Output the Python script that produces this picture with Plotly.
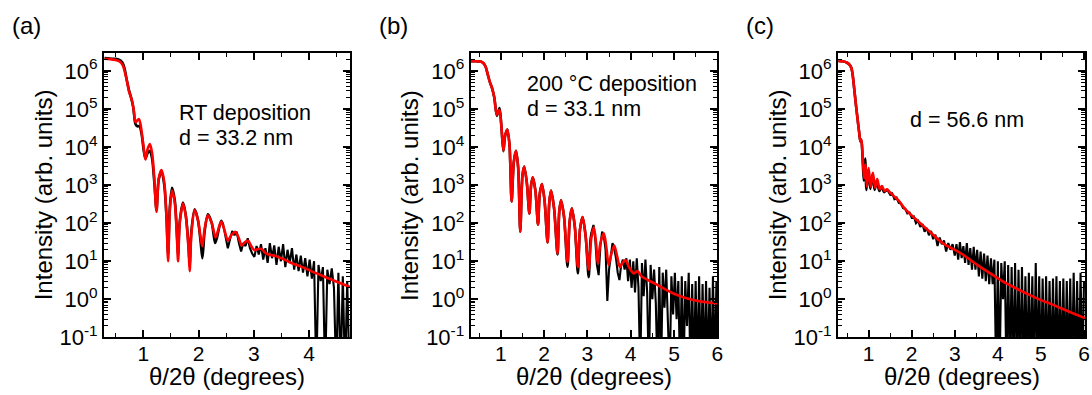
import plotly.graph_objects as go

# ---------------- data ----------------
# (a) RT deposition
a_fit_x = [0.30, 0.40, 0.50, 0.58, 0.63, 0.67, 0.71, 0.74, 0.77, 0.80, 0.83, 0.86, 0.89, 0.92, 0.95, 1.00, 1.04, 1.08, 1.12, 1.16, 1.20, 1.24, 1.28, 1.33, 1.38, 1.42, 1.45, 1.48, 1.52, 1.57, 1.61, 1.63, 1.66, 1.72, 1.77, 1.82, 1.84, 1.87, 1.93, 1.99, 2.04, 2.07, 2.11, 2.17, 2.24, 2.31, 2.36, 2.41, 2.47, 2.53, 2.60, 2.67, 2.73, 2.78, 2.84, 2.90, 2.96, 3.01, 3.08, 3.14, 3.22, 3.30, 3.38, 3.50, 3.68, 3.90, 4.10, 4.30, 4.50, 4.74]
a_fit_y = [2.1e6, 2.05e6, 1.95e6, 1.75e6, 1.4e6, 9e5, 5e5, 3.0e5, 2.2e5, 1.6e5, 9e4, 4.5e4, 5.0e4, 5.5e4, 4e4, 1.2e4, 4.7e3, 9e3, 1.2e4, 7e3, 1.5e3, 200, 1.5e3, 2.5e3, 1.2e3, 150, 10, 200, 720, 350, 40, 10, 100, 330, 150, 20, 5.5, 50, 220, 120, 40, 25, 70, 160, 100, 42, 70, 110, 65, 35, 50, 59, 40, 26, 32, 34, 24, 19.6, 21, 21, 16, 14.5, 14, 12, 9, 6.8, 5.0, 3.8, 2.9, 2.1]
a_meas_x = [0.30, 0.45, 0.55, 0.62, 0.66, 0.70, 0.74, 0.78, 0.82, 0.86, 0.90, 0.93, 0.97, 1.01, 1.04, 1.08, 1.12, 1.16, 1.20, 1.24, 1.28, 1.33, 1.38, 1.42, 1.45, 1.48, 1.52, 1.57, 1.61, 1.63, 1.66, 1.72, 1.77, 1.82, 1.84, 1.87, 1.93, 1.99, 2.04, 2.07, 2.11, 2.17, 2.24, 2.30, 2.33, 2.41, 2.45]
a_meas_y = [2.2e6, 2.1e6, 2.0e6, 1.7e6, 1.2e6, 6e5, 3.2e5, 2.0e5, 1.1e5, 4.0e4, 3.5e4, 3.6e4, 2.2e4, 8e3, 5e3, 7e3, 8e3, 5e3, 1.2e3, 220, 1.4e3, 2.3e3, 1.0e3, 150, 15, 250, 850, 400, 50, 14, 110, 350, 160, 25, 8, 60, 230, 120, 30, 12, 60, 170, 100, 30, 40, 115, 85]
a_noise_x = [2.45, 2.49, 2.53, 2.57, 2.61, 2.65, 2.69, 2.73, 2.77, 2.81, 2.85, 2.89, 2.93, 2.97, 3.01, 3.05, 3.09, 3.13, 3.17, 3.21, 3.25, 3.29, 3.33, 3.37, 3.41, 3.45, 3.49, 3.53, 3.57, 3.61, 3.65, 3.69, 3.73, 3.77, 3.81, 3.85, 3.89, 3.93, 3.97, 4.01, 4.05, 4.09, 4.13, 4.17, 4.21, 4.25, 4.29, 4.33, 4.37, 4.41, 4.45, 4.49, 4.53, 4.57, 4.61, 4.65, 4.69, 4.73]
a_noise_y = [85, 45, 22, 38, 62, 48, 60, 30, 18, 30, 25, 40, 22, 16, 13, 25, 15, 28, 11, 22, 9, 30, 12, 26, 8, 24, 10, 28, 7, 20, 9, 22, 6, 15, 5.5, 14, 5, 12, 4, 11, 3.5, 10, 0.01, 8, 3, 7, 0.01, 6, 2.5, 6.5, 2, 0.01, 5, 0.01, 4, 0.01, 3, 0.01]

# (b) 200 C deposition
b_fit_x = [0.30, 0.45, 0.55, 0.60, 0.65, 0.70, 0.75, 0.80, 0.85, 0.91, 0.97, 1.01, 1.06, 1.10, 1.15, 1.20, 1.25, 1.30, 1.35, 1.40, 1.45, 1.50, 1.54, 1.60, 1.66, 1.70, 1.74, 1.80, 1.86, 1.90, 1.95, 2.01, 2.08, 2.12, 2.16, 2.23, 2.31, 2.35, 2.39, 2.46, 2.54, 2.59, 2.64, 2.71, 2.78, 2.83, 2.89, 2.96, 3.03, 3.09, 3.15, 3.20, 3.24, 3.30, 3.38, 3.44, 3.49, 3.55, 3.62, 3.69, 3.75, 3.81, 3.88, 3.96, 4.07, 4.16, 4.25, 4.40, 4.55, 4.70, 4.85, 5.00, 5.20, 5.40, 5.60, 5.80, 6.00]
b_fit_y = [1.8e6, 1.8e6, 1.75e6, 1.6e6, 1.3e6, 8e5, 5e5, 3.5e5, 2e5, 7e4, 9.5e4, 4e4, 8e3, 2e4, 2.9e4, 1.2e4, 370, 4e3, 8e3, 3e3, 60, 1.8e3, 3.1e3, 1.2e3, 180, 1e3, 1.6e3, 700, 92, 600, 1.07e3, 400, 31, 350, 720, 250, 16, 200, 400, 150, 9.5, 110, 245, 80, 7, 70, 145, 45, 6, 40, 78, 30, 8.7, 30, 54, 22, 8, 15, 26, 13, 7, 9, 10.7, 7, 4.8, 5.5, 4.0, 3.2, 2.6, 2.1, 1.7, 1.4, 1.15, 0.98, 0.88, 0.82, 0.78]
b_meas_x = [0.30, 0.45, 0.55, 0.60, 0.65, 0.70, 0.75, 0.80, 0.85, 0.91, 0.97, 1.01, 1.06, 1.10, 1.15, 1.20, 1.25, 1.30, 1.35, 1.40, 1.45, 1.50, 1.54, 1.60, 1.66, 1.70, 1.74, 1.80, 1.86, 1.90, 1.95, 2.01, 2.08, 2.12, 2.16, 2.23, 2.31, 2.35, 2.39, 2.46, 2.54, 2.59, 2.64, 2.71, 2.78, 2.83, 2.89, 2.96, 3.03, 3.07, 3.10]
b_meas_y = [1.8e6, 1.8e6, 1.75e6, 1.6e6, 1.3e6, 8e5, 5e5, 3.5e5, 2e5, 6.6e4, 1.07e5, 4e4, 7.8e3, 2e4, 2.9e4, 1.2e4, 370, 4e3, 8e3, 3e3, 60, 1.8e3, 3.1e3, 1.2e3, 180, 1e3, 1.6e3, 700, 92, 600, 1.07e3, 400, 31, 350, 720, 250, 15, 200, 400, 150, 7.2, 110, 245, 80, 4.8, 70, 145, 45, 3.8, 35, 60]
b_noise_x = [3.10, 3.14, 3.18, 3.22, 3.26, 3.30, 3.34, 3.38, 3.42, 3.46, 3.50, 3.54, 3.58, 3.62, 3.66, 3.70, 3.74, 3.78, 3.82, 3.86, 3.90, 3.94, 3.98, 4.02, 4.06, 4.10, 4.14, 4.18, 4.22, 4.26, 4.30, 4.34, 4.38, 4.42, 4.46, 4.50, 4.54, 4.58, 4.62, 4.66, 4.70, 4.74, 4.78, 4.82, 4.86, 4.90, 4.94, 4.98, 5.02, 5.06, 5.10, 5.14, 5.18, 5.22, 5.26, 5.30, 5.34, 5.38, 5.42, 5.46, 5.50, 5.54, 5.58, 5.62, 5.66, 5.70, 5.74, 5.78, 5.82, 5.86, 5.90, 5.94, 5.98, 6.00]
b_noise_y = [60, 90, 40, 8, 4.3, 25, 60, 45, 20, 0.9, 6, 14, 30, 22, 12, 5, 3.2, 8, 11, 6, 12, 3, 11, 2, 10, 1.5, 12, 2, 0.01, 9, 1.2, 11, 1.5, 0.01, 8, 1, 6, 0.8, 0.01, 7, 0.01, 5, 0.6, 6, 0.5, 0.01, 4, 0.4, 5, 0.3, 3, 0.01, 4, 0.01, 3, 0.2, 5, 0.01, 2.5, 0.01, 3, 0.01, 4, 0.01, 2.5, 0.01, 3, 0.01, 2, 0.01, 4, 0.01, 3, 0.01]

# (c)
c_fit_x = [0.30, 0.40, 0.50, 0.56, 0.60, 0.63, 0.66, 0.70, 0.74, 0.78, 0.81, 0.83, 0.85, 0.87, 0.90, 0.93, 0.96, 1.00, 1.05, 1.10, 1.15, 1.20, 1.26, 1.31, 1.37, 1.43, 1.50, 1.60, 1.70, 1.84, 2.00, 2.20, 2.40, 2.61, 2.80, 3.00, 3.17, 3.40, 3.60, 3.89, 4.20, 4.40, 4.67, 5.00, 5.20, 5.44, 5.70, 6.05]
c_fit_y = [1.85e6, 1.8e6, 1.65e6, 1.45e6, 1.2e6, 8e5, 4e5, 1.5e5, 6e4, 2.5e4, 1.4e4, 1.6e4, 1.0e4, 4e3, 1.5e3, 3.5e3, 900, 2.8e3, 900, 2.1e3, 850, 1.45e3, 780, 950, 700, 780, 640, 500, 390, 240, 160, 100, 62, 38, 26, 20, 15.5, 10, 7, 4.3, 2.6, 2.0, 1.4, 0.95, 0.78, 0.6, 0.45, 0.31]
c_meas_x = [0.30, 0.40, 0.50, 0.56, 0.60, 0.63, 0.66, 0.70, 0.74, 0.78, 0.81, 0.83, 0.85, 0.87, 0.89, 0.92, 0.95, 0.99, 1.04, 1.09, 1.14, 1.19, 1.25, 1.30, 1.36, 1.42, 1.45]
c_meas_y = [1.85e6, 1.8e6, 1.65e6, 1.45e6, 1.2e6, 8e5, 4e5, 1.5e5, 6e4, 2.5e4, 1.4e4, 1.5e4, 9e3, 3e3, 1.3e3, 5e3, 750, 2.5e3, 800, 1.9e3, 750, 1.3e3, 700, 900, 650, 750, 700]
c_noise_x = [1.45, 1.50, 1.55, 1.60, 1.65, 1.70, 1.75, 1.80, 1.85, 1.90, 1.95, 2.00, 2.05, 2.10, 2.15, 2.20, 2.25, 2.30, 2.35, 2.40, 2.45, 2.50, 2.55, 2.60, 2.65, 2.70, 2.75, 2.80, 2.85, 2.90, 2.95, 3.00, 3.04, 3.08, 3.12, 3.16, 3.20, 3.24, 3.28, 3.32, 3.36, 3.40, 3.44, 3.48, 3.52, 3.56, 3.60, 3.64, 3.68, 3.72, 3.76, 3.80, 3.84, 3.88, 3.92, 3.96, 4.00, 4.04, 4.08, 4.12, 4.16, 4.20, 4.24, 4.28, 4.32, 4.36, 4.40, 4.44, 4.48, 4.52, 4.56, 4.60, 4.64, 4.68, 4.72, 4.76, 4.80, 4.84, 4.88, 4.92, 4.96, 5.00, 5.04, 5.08, 5.12, 5.16, 5.20, 5.24, 5.28, 5.32, 5.36, 5.40, 5.44, 5.48, 5.52, 5.56, 5.60, 5.64, 5.68, 5.72, 5.76, 5.80, 5.84, 5.88, 5.92, 5.96, 6.00]
c_noise_y = [700, 560, 600, 430, 470, 340, 330, 250, 240, 180, 190, 140, 150, 100, 115, 80, 95, 60, 75, 48, 62, 38, 50, 25, 42, 28, 35, 18, 30, 20, 28, 14, 28, 11, 32, 12, 25, 9, 30, 8, 22, 6, 24, 6, 20, 4, 18, 3.5, 16, 3, 14, 2.5, 12, 2.5, 11, 0.01, 10, 0.01, 9, 1.0, 10, 0.01, 8, 0.01, 7, 0.01, 9, 0.01, 6, 0.01, 7, 0.01, 4, 0.01, 5, 0.01, 4, 0.01, 9, 0.01, 4, 0.01, 3.5, 0.01, 4, 0.01, 3, 0.01, 3.5, 0.01, 4, 0.01, 3, 0.01, 3.5, 0.01, 3, 0.01, 3.5, 0.01, 5, 0.01, 3, 0.01, 5, 0.01, 3]

panel_labels = ["(a)", "(b)", "(c)"]
panel_notes = [["RT deposition", "d = 33.2 nm"], ["200 °C deposition", "d = 33.1 nm"], ["d = 56.6 nm"]]
x_ticks = [[1, 2, 3, 4], [1, 2, 3, 4, 5, 6], [1, 2, 3, 4, 5, 6]]
y_tickvals = [0.1, 1, 10, 100, 1e3, 1e4, 1e5, 1e6]
y_ticktext = ["10<sup>-1</sup>", "10<sup>0</sup>", "10<sup>1</sup>", "10<sup>2</sup>",
              "10<sup>3</sup>", "10<sup>4</sup>", "10<sup>5</sup>", "10<sup>6</sup>"]
x_title = "θ/2θ (degrees)"
y_title = "Intensity (arb. units)"

# ---------------- figure ----------------
W, H = 1092, 395
FONT = "Liberation Sans, Arial, sans-serif"
fig = go.Figure()

panels = [
    dict(meas=(a_meas_x, a_meas_y), noise=(a_noise_x, a_noise_y), fit=(a_fit_x, a_fit_y),
         xdom=(104, 350), xr=(0.29, 4.74)),
    dict(meas=(b_meas_x, b_meas_y), noise=(b_noise_x, b_noise_y), fit=(b_fit_x, b_fit_y),
         xdom=(470.7, 717.3), xr=(0.305, 6.0)),
    dict(meas=(c_meas_x, c_meas_y), noise=(c_noise_x, c_noise_y), fit=(c_fit_x, c_fit_y),
         xdom=(838, 1085.3), xr=(0.29, 6.03)),
]
top_px, bot_px = 53.3, 337.3
ydom = [1 - bot_px / H, 1 - top_px / H]

for i, p in enumerate(panels):
    n = "" if i == 0 else str(i + 1)
    xa, ya = "x" + n, "y" + n
    fig.add_trace(go.Scatter(x=p["meas"][0], y=p["meas"][1], mode="lines", xaxis=xa, yaxis=ya,
                             line=dict(color="black", width=2.6, shape="spline", smoothing=0.8),
                             showlegend=False))
    fig.add_trace(go.Scatter(x=p["noise"][0], y=p["noise"][1], mode="lines", xaxis=xa, yaxis=ya,
                             line=dict(color="black", width=2.1), showlegend=False))
    fig.add_trace(go.Scatter(x=p["fit"][0], y=p["fit"][1], mode="lines", xaxis=xa, yaxis=ya,
                             line=dict(color="red", width=2.6, shape="spline", smoothing=0.8),
                             showlegend=False))
    axis_common = dict(showline=True, linecolor="black", linewidth=2, mirror="allticks",
                       ticks="inside", ticklen=7, tickwidth=1.5, tickcolor="black",
                       showgrid=False, zeroline=False, automargin=False,
                       tickfont=dict(family=FONT, size=22, color="black"))
    fig.layout["xaxis" + n] = dict(axis_common, domain=[p["xdom"][0] / W, p["xdom"][1] / W],
                                   range=list(p["xr"]), anchor=ya, tickmode="array",
                                   tickvals=x_ticks[i], ticklabelstandoff=-4,
                                   tickfont=dict(family=FONT, size=21, color="black"),
                                   minor=dict(ticks="inside", ticklen=4, tickwidth=1.2,
                                              tickcolor="black", dtick=0.5, tick0=0, showgrid=False))
    fig.layout["yaxis" + n] = dict(axis_common, domain=ydom, type="log",
                                   range=[-1, 6 + (71 - top_px) / 38], anchor=xa,
                                   tickmode="array", tickvals=y_tickvals, ticktext=y_ticktext,
                                   minor=dict(ticks="inside", ticklen=4, tickwidth=1.2,
                                              tickcolor="black", dtick="D1", showgrid=False))
    xc = (p["xdom"][0] + p["xdom"][1]) / 2 / W
    fig.add_annotation(text=x_title, x=xc, y=1 - 376 / H, xref="paper", yref="paper",
                       xanchor="center", yanchor="middle",
                       showarrow=False, font=dict(family=FONT, size=24, color="black"))
    fig.add_annotation(text=y_title, x=(p["xdom"][0] - 61) / W, y=(ydom[0] + ydom[1]) / 2,
                       xref="paper", yref="paper", textangle=-90, showarrow=False,
                       xanchor="center", yanchor="middle",
                       font=dict(family=FONT, size=24, color="black"))
    fig.add_annotation(text=panel_labels[i], x=(p["xdom"][0] - 94) / W, y=1 - 25 / H,
                       xref="paper", yref="paper", xanchor="left", yanchor="middle",
                       showarrow=False, font=dict(family=FONT, size=24, color="black"))

note_pos = [(177, [113, 138]), (525, [84, 109]), (908, [120])]
for i, (nx, nys) in enumerate(note_pos):
    for line_text, ny in zip(panel_notes[i], nys):
        fig.add_annotation(text=line_text, x=nx / W, y=1 - ny / H, xref="paper", yref="paper",
                           xanchor="left", yanchor="middle", align="left", showarrow=False,
                           font=dict(family=FONT, size=21.5, color="black"))

fig.update_layout(width=W, height=H, autosize=False, margin=dict(l=0, r=0, t=0, b=0),
                  paper_bgcolor="white", plot_bgcolor="white",
                  font=dict(family=FONT, color="black"))
fig.write_html("out.html")
